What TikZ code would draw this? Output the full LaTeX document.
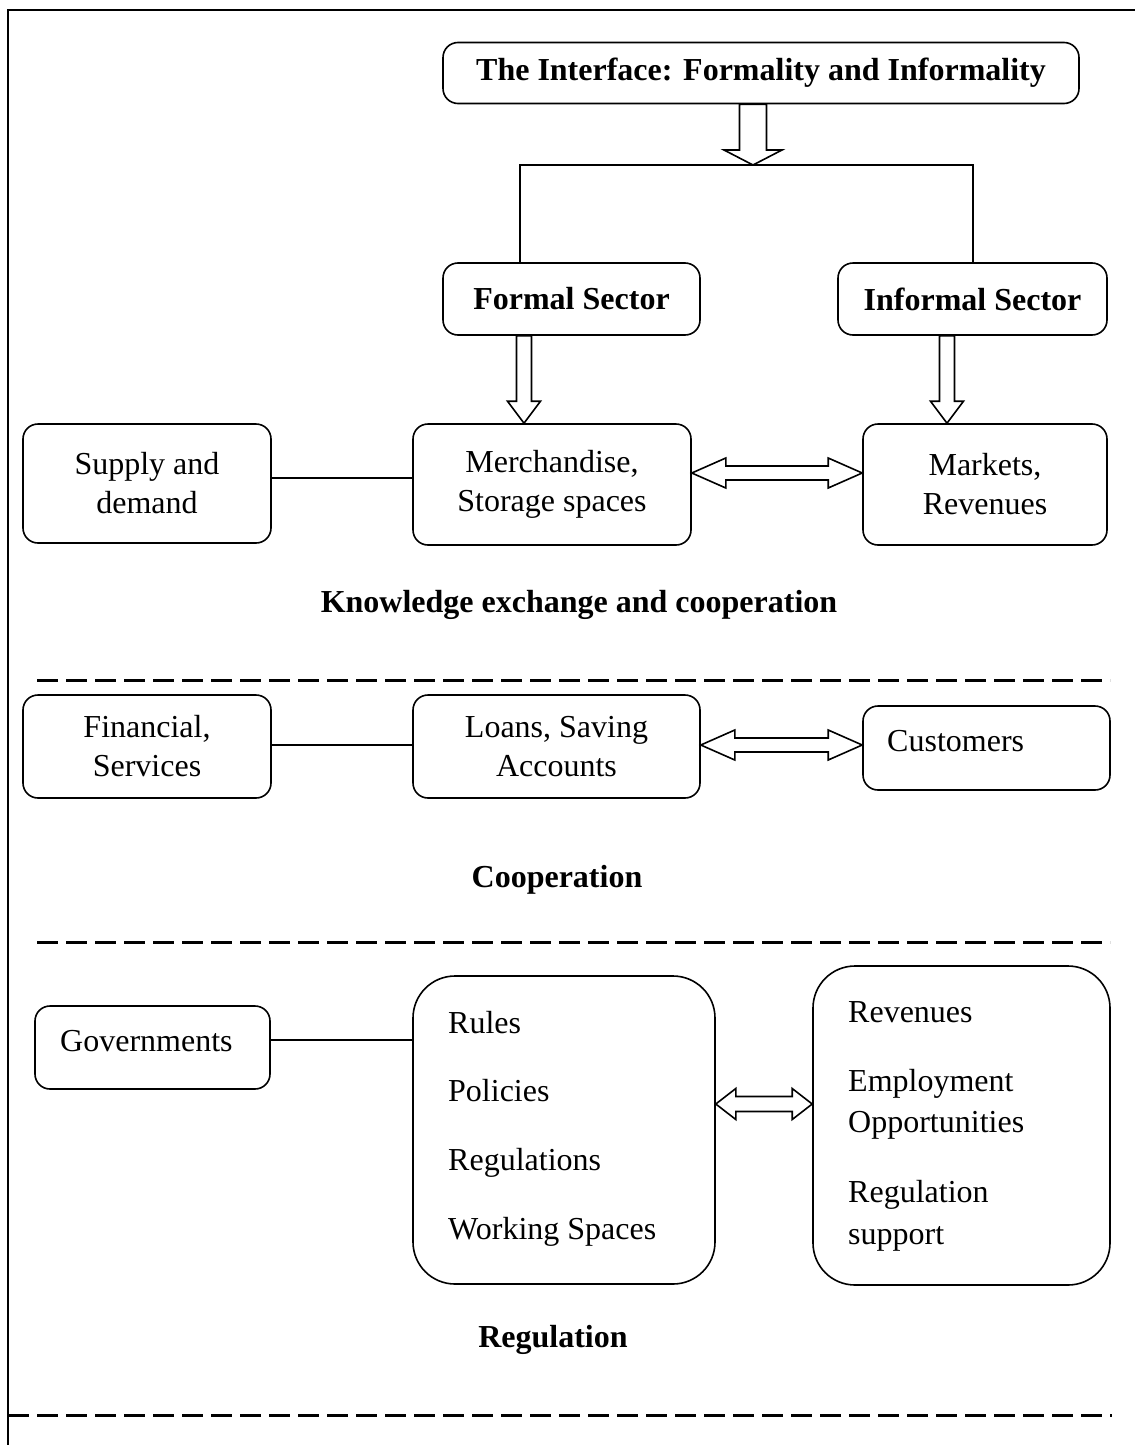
\documentclass[tikz,border=0pt]{standalone}
\usepackage{fontspec}
\setmainfont{Liberation Serif}
\usetikzlibrary{calc}
\newcommand\fs{\fontsize{32}{39}\selectfont}
\newcommand\hdown[5]{%
  \draw[harrow] let \p1=(#1), \p2=(#2) in
    (\x1-#3pt,\y1) -- (\x1+#3pt,\y1) -- (\x1+#3pt,\y2+#5pt) -- (\x1+#4pt,\y2+#5pt)
    -- (\x1,\y2) -- (\x1-#4pt,\y2+#5pt) -- (\x1-#3pt,\y2+#5pt) -- cycle;}
\newcommand\hboth[5]{%
  \draw[harrow] let \p1=(#1), \p2=(#2) in
    (\x1,\y1) -- (\x1+#5pt,\y1+#4pt) -- (\x1+#5pt,\y1+#3pt) -- (\x2-#5pt,\y1+#3pt)
    -- (\x2-#5pt,\y1+#4pt) -- (\x2,\y1) -- (\x2-#5pt,\y1-#4pt) -- (\x2-#5pt,\y1-#3pt)
    -- (\x1+#5pt,\y1-#3pt) -- (\x1+#5pt,\y1-#4pt) -- cycle;}
\begin{document}
\begin{tikzpicture}[x=1pt,y=-1pt,
  box/.style={draw, line width=1.6pt, rounded corners=15pt, inner sep=0pt, align=center, font=\fs},
  bigbox/.style={box, rounded corners=42pt},
  btitle/.style={font=\fs\bfseries, inner sep=0pt},
  txt/.style={font=\fs, inner sep=0pt, anchor=base west, align=left},
  conn/.style={line width=1.6pt},
  harrow/.style={line width=1.6pt, line join=miter, fill=white},
  sep/.style={line width=3pt, dash pattern=on 21pt off 8pt},
  frame/.style={line width=2.8pt}]
\useasboundingbox (0,0) rectangle (1135,1445);
% frame
\draw[frame] (8,1445) -- (8,10) -- (1135,10);

% top
\node[box, minimum width=636pt, minimum height=61pt, font=\fs\bfseries] (title) at (761,73) {The Interface: Formality and Informality};
\node[box, minimum width=257pt, minimum height=72pt, font=\fs\bfseries] (formal) at (571.5,299) {Formal Sector};
\node[box, minimum width=269pt, minimum height=72pt, font=\fs\bfseries] (informal) at (972.5,299) {Informal Sector};
\coordinate (barL) at (520,165);
\coordinate (barR) at (973,165);
\draw[conn] (formal.north -| barL) -- (barL) -- (barR) -- (informal.north -| barR);
\coordinate (tA) at ([xshift=-8pt]title.south);
\coordinate (tB) at (tA |- barL);
\hdown{tA}{tB}{13.5}{29}{15}

% row 1
\node[box, minimum width=248pt, minimum height=119pt] (supply) at (147,483.5) {Supply and\\demand};
\node[box, minimum width=278pt, minimum height=121pt] (merch) at (552,484.5) {Merchandise,\\Storage spaces};
\node[box, minimum width=244pt, minimum height=121pt] (markets) at (985,484.5) {Markets,\\Revenues};
\coordinate (fA) at ([xshift=-47.5pt]formal.south);
\coordinate (fB) at (fA |- merch.north);
\hdown{fA}{fB}{7.5}{16.5}{22}
\coordinate (iA) at ([xshift=-25.5pt]informal.south);
\coordinate (iB) at (iA |- markets.north);
\hdown{iA}{iB}{7.5}{16.5}{22}
\draw[conn] ([yshift=5.5pt]supply.east) -- ([yshift=5.5pt]supply.east -| merch.west);
\coordinate (mA) at ([yshift=11.5pt]merch.east);
\coordinate (mB) at (mA -| markets.west);
\hboth{mA}{mB}{7}{15}{34}
\node[btitle] (lab1) at (579,605) {Knowledge exchange and cooperation};
\draw[sep] (37,680) -- (1110,680);

% row 2
\node[box, minimum width=248pt, minimum height=103pt] (fin) at (147,746.5) {Financial,\\Services};
\node[box, minimum width=287pt, minimum height=103pt] (loans) at (556.5,746.5) {Loans, Saving\\Accounts};
\node[box, minimum width=247pt, minimum height=84pt] (cust) at (986.5,748) {};
\node[txt] (custt) at (887,751) {Customers};
\draw[conn] ([yshift=1.5pt]fin.east) -- ([yshift=1.5pt]fin.east -| loans.west);
\coordinate (lA) at ([yshift=1.5pt]loans.east);
\coordinate (lB) at (lA -| cust.west);
\hboth{lA}{lB}{7}{15}{34}
\node[btitle] (lab2) at (557,880) {Cooperation};
\draw[sep] (37,942) -- (1110,942);

% row 3
\node[box, minimum width=235pt, minimum height=83pt] (gov) at (152.5,1047.5) {};
\node[txt] (govt) at (60,1051) {Governments};
\node[bigbox, minimum width=302pt, minimum height=308pt] (rules) at (564,1130) {};
\node[txt] (r1) at (448,1033) {Rules};
\node[txt] (r2) at (448,1101) {Policies};
\node[txt] (r3) at (448,1170) {Regulations};
\node[txt] (r4) at (448,1239) {Working Spaces};
\node[bigbox, minimum width=297pt, minimum height=319pt] (rev) at (961.5,1125.5) {};
\node[txt] (v1) at (848,1022) {Revenues};
\node[txt] (v2) at (848,1091) {Employment};
\node[txt] (v3) at (848,1132) {Opportunities};
\node[txt] (v4) at (848,1202) {Regulation};
\node[txt] (v5) at (848,1244) {support};
\draw[conn] ([yshift=7.5pt]gov.east) -- ([yshift=7.5pt]gov.east -| rules.west);
\coordinate (gA) at ([yshift=26pt]rules.east);
\coordinate (gB) at (gA -| rev.west);
\hboth{gA}{gB}{7.5}{15.5}{20}
\node[btitle] (lab3) at (553,1340) {Regulation};
\draw[sep] (8,1415) -- (1112,1415);
\end{tikzpicture}
\end{document}
